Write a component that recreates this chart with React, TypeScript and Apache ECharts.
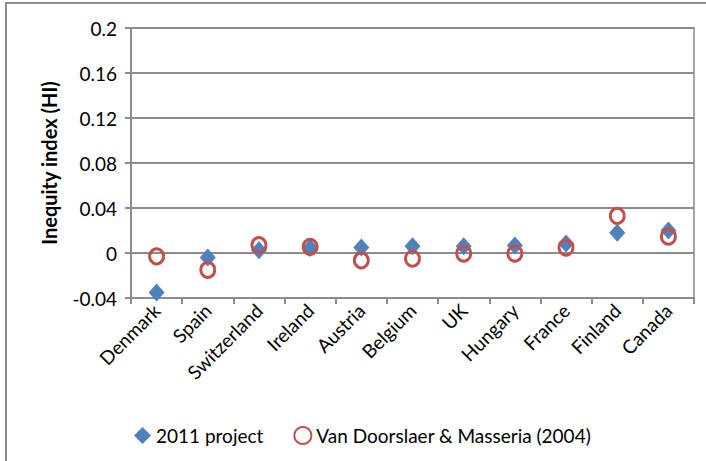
import React, { useEffect, useRef } from "react";
import * as echarts from "echarts";

const categories = ["Denmark", "Spain", "Switzerland", "Ireland", "Austria", "Belgium", "UK", "Hungary", "France", "Finland", "Canada"];
const project2011 = [-0.035, -0.004, 0.0025, 0.0045, 0.005, 0.006, 0.006, 0.0067, 0.0085, 0.018, 0.02];
const vanDoorslaer = [-0.003, -0.015, 0.007, 0.0055, -0.0065, -0.005, -0.0005, -0.0005, 0.0048, 0.033, 0.0145];
const yTicks = { min: -0.04, max: 0.2, interval: 0.04 };

const FONT = "Lato";

export default function App() {
  const ref = useRef<HTMLDivElement>(null);
  useEffect(() => {
    document.body.style.margin = "0";
    const chart = echarts.init(ref.current!, null, { renderer: "svg" });
    chart.setOption({
      animation: false,
      backgroundColor: "#fff",
      textStyle: { fontFamily: FONT },
      grid: { left: 131, right: 12, top: 28, bottom: 163 },
      graphic: [
        {
          type: "rect",
          shape: { x: 6, y: 3, width: 720, height: 480 },
          style: { fill: "none", stroke: "#8c8c8c", lineWidth: 2 },
          silent: true,
        },
        {
          type: "rect",
          shape: { x: 131, y: 28, width: 563, height: 270 },
          style: { fill: "none", stroke: "#a6a6a6", lineWidth: 2 },
          silent: true,
          z: 0,
        },
      ],
      legend: {
        left: 129,
        top: 421,
        itemWidth: 17,
        itemHeight: 17,
        itemGap: 30,
        textStyle: { fontFamily: FONT, fontSize: 19, color: "#000" },
        data: [
          { name: "2011 project", icon: "diamond" },
          { name: "Van Doorslaer & Masseria (2004)", icon: "circle" },
        ],
      },
      xAxis: {
        type: "category",
        data: categories,
        boundaryGap: true,
        axisLine: { onZero: false, lineStyle: { color: "#8c8c8c", width: 2 } },
        axisTick: { show: true, length: 6, lineStyle: { color: "#8c8c8c", width: 2 } },
        axisLabel: { rotate: 45, fontSize: 19, color: "#000", fontFamily: FONT, margin: 9, interval: 0 },
        splitLine: { show: false },
      },
      yAxis: {
        type: "value",
        min: yTicks.min,
        max: yTicks.max,
        interval: yTicks.interval,
        name: "Inequity index (HI)",
        nameLocation: "middle",
        nameGap: 72,
        nameTextStyle: { fontSize: 20, fontWeight: "bold", color: "#000", fontFamily: FONT },
        axisLine: { show: true, lineStyle: { color: "#8c8c8c", width: 2 } },
        axisTick: { show: true, length: 6, lineStyle: { color: "#8c8c8c", width: 2 } },
        axisLabel: {
          fontSize: 19,
          color: "#000",
          fontFamily: FONT,
          margin: 14,
          formatter: (v: number) => String(parseFloat(v.toFixed(2))),
        },
        splitLine: { show: true, lineStyle: { color: "#8c8c8c", width: 2 } },
      },
      series: [
        {
          name: "2011 project",
          type: "scatter",
          symbol: "diamond",
          symbolSize: [16, 18],
          itemStyle: { color: "#4F81BD", opacity: 1 },
          data: project2011,
          z: 2,
        },
        {
          name: "Van Doorslaer & Masseria (2004)",
          type: "scatter",
          symbol: "circle",
          symbolSize: [14, 15],
          itemStyle: { color: "rgba(255,255,255,0)", borderColor: "#C0504D", borderWidth: 3, opacity: 1 },
          data: vanDoorslaer,
          z: 3,
        },
      ],
    });
    return () => chart.dispose();
  }, []);
  return <div ref={ref} style={{ width: 706, height: 461 }} />;
}
